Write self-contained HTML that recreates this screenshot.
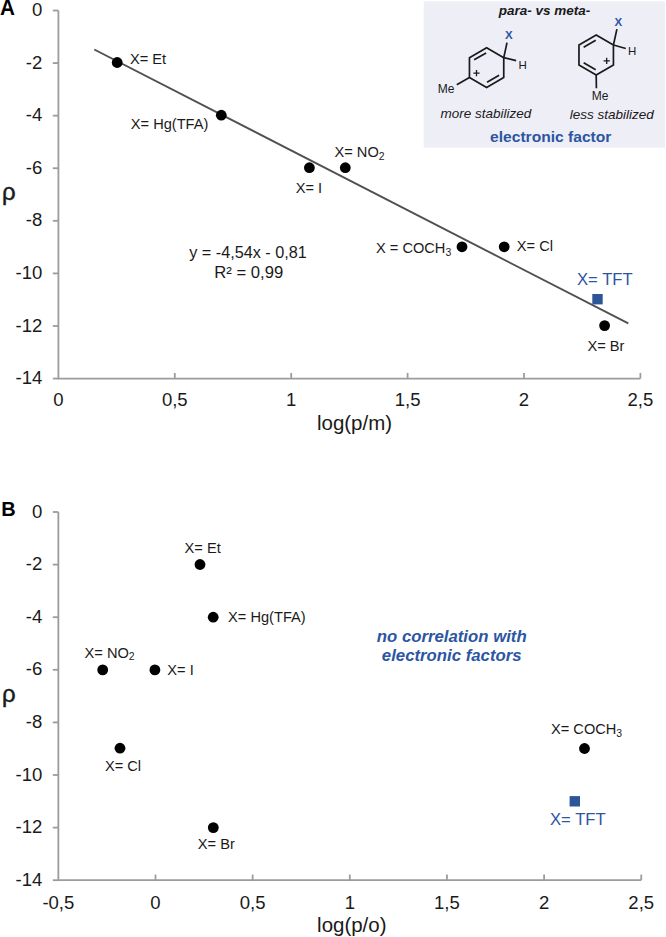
<!DOCTYPE html>
<html><head><meta charset="utf-8"><style>
html,body{margin:0;padding:0;background:#fff;}
body{width:666px;height:937px;overflow:hidden;}
svg{display:block;}
text{font-family:"Liberation Sans", sans-serif;fill:#1a1a1a;stroke:none;}
.tk{font-size:18px;}
.lb{font-size:14px;}
.sub{font-size:10px;}
.tft{font-size:16.5px;fill:#2c55a2;}
.eq{font-size:16px;}
.at{font-size:19.5px;}
.rho{font-size:24px;stroke:#1a1a1a;stroke-width:0.45px;}
.pl{font-size:20px;font-weight:bold;fill:#000;stroke:none;}
.pla{font-size:22px;font-weight:bold;fill:#000;stroke:none;}
.bi{font-size:13.5px;font-weight:bold;font-style:italic;stroke:none;}
.it{font-size:13.5px;font-style:italic;}
.ef{font-size:15px;font-weight:bold;fill:#2c55a2;stroke:none;}
.nc{font-size:16.6px;font-weight:bold;font-style:italic;fill:#2c55a2;stroke:none;}
.xx{font-size:11.5px;font-weight:bold;fill:#2c55a2;}
.hh{font-size:11.5px;}
.me{font-size:12px;}
.pp{font-size:10px;font-weight:bold;}
</style></head><body>
<svg width="666" height="937" viewBox="0 0 666 937">
<text transform="translate(0.00 14.70) scale(0.9400 1)" text-anchor="start" class="pla">A</text>
<path d="M58.40 10.50V378.56H640.40" fill="none" stroke="#9c9c9c" stroke-width="1.8"/>
<line x1="52.8" y1="10.50" x2="58.40" y2="10.50" stroke="#9c9c9c" stroke-width="1.8"/>
<text transform="translate(42.30 16.10) scale(1.0300 1)" text-anchor="end" class="tk">0</text>
<line x1="52.8" y1="63.08" x2="58.40" y2="63.08" stroke="#9c9c9c" stroke-width="1.8"/>
<text transform="translate(42.30 68.68) scale(1.0300 1)" text-anchor="end" class="tk">-2</text>
<line x1="52.8" y1="115.66" x2="58.40" y2="115.66" stroke="#9c9c9c" stroke-width="1.8"/>
<text transform="translate(42.30 121.26) scale(1.0300 1)" text-anchor="end" class="tk">-4</text>
<line x1="52.8" y1="168.24" x2="58.40" y2="168.24" stroke="#9c9c9c" stroke-width="1.8"/>
<text transform="translate(42.30 173.84) scale(1.0300 1)" text-anchor="end" class="tk">-6</text>
<line x1="52.8" y1="220.82" x2="58.40" y2="220.82" stroke="#9c9c9c" stroke-width="1.8"/>
<text transform="translate(42.30 226.42) scale(1.0300 1)" text-anchor="end" class="tk">-8</text>
<line x1="52.8" y1="273.40" x2="58.40" y2="273.40" stroke="#9c9c9c" stroke-width="1.8"/>
<text transform="translate(42.30 279.00) scale(1.0300 1)" text-anchor="end" class="tk">-10</text>
<line x1="52.8" y1="325.98" x2="58.40" y2="325.98" stroke="#9c9c9c" stroke-width="1.8"/>
<text transform="translate(42.30 331.58) scale(1.0300 1)" text-anchor="end" class="tk">-12</text>
<line x1="52.8" y1="378.56" x2="58.40" y2="378.56" stroke="#9c9c9c" stroke-width="1.8"/>
<text transform="translate(42.30 384.16) scale(1.0300 1)" text-anchor="end" class="tk">-14</text>
<text transform="translate(58.40 406.00) scale(1.0300 1)" text-anchor="middle" class="tk">0</text>
<line x1="174.80" y1="372.96" x2="174.80" y2="378.56" stroke="#9c9c9c" stroke-width="1.8"/>
<text transform="translate(174.80 406.00) scale(1.0300 1)" text-anchor="middle" class="tk">0,5</text>
<line x1="291.20" y1="372.96" x2="291.20" y2="378.56" stroke="#9c9c9c" stroke-width="1.8"/>
<text transform="translate(291.20 406.00) scale(1.0300 1)" text-anchor="middle" class="tk">1</text>
<line x1="407.60" y1="372.96" x2="407.60" y2="378.56" stroke="#9c9c9c" stroke-width="1.8"/>
<text transform="translate(407.60 406.00) scale(1.0300 1)" text-anchor="middle" class="tk">1,5</text>
<line x1="524.00" y1="372.96" x2="524.00" y2="378.56" stroke="#9c9c9c" stroke-width="1.8"/>
<text transform="translate(524.00 406.00) scale(1.0300 1)" text-anchor="middle" class="tk">2</text>
<line x1="640.40" y1="372.96" x2="640.40" y2="378.56" stroke="#9c9c9c" stroke-width="1.8"/>
<text transform="translate(640.40 406.00) scale(1.0300 1)" text-anchor="middle" class="tk">2,5</text>
<line x1="94.3" y1="49.5" x2="628.3" y2="323.4" stroke="#505050" stroke-width="1.9"/>
<circle cx="117.20" cy="62.50" r="5.4" fill="#000"/>
<circle cx="221.30" cy="115.20" r="5.4" fill="#000"/>
<circle cx="309.40" cy="167.70" r="5.4" fill="#000"/>
<circle cx="345.30" cy="167.70" r="5.4" fill="#000"/>
<circle cx="462.00" cy="246.80" r="5.4" fill="#000"/>
<circle cx="504.20" cy="246.80" r="5.4" fill="#000"/>
<circle cx="604.60" cy="325.60" r="5.4" fill="#000"/>
<rect x="592.30" y="294.00" width="10.4" height="10.4" fill="#2e5597"/>
<text transform="translate(130.00 63.80) scale(1.0450 1)" text-anchor="start" class="lb">X= Et</text>
<text transform="translate(130.80 128.80) scale(1.0450 1)" text-anchor="start" class="lb">X= Hg(TFA)</text>
<text transform="translate(295.70 192.80) scale(1.0450 1)" text-anchor="start" class="lb">X= I</text>
<text transform="translate(334.50 156.80) scale(1.0450 1)" text-anchor="start" class="lb">X= NO<tspan class="sub" dy="2.7">2</tspan></text>
<text transform="translate(376.00 252.80) scale(1.0450 1)" text-anchor="start" class="lb">X = COCH<tspan class="sub" dy="2.7">3</tspan></text>
<text transform="translate(516.80 250.50) scale(1.0450 1)" text-anchor="start" class="lb">X= Cl</text>
<text transform="translate(587.50 350.50) scale(1.0450 1)" text-anchor="start" class="lb">X= Br</text>
<text transform="translate(577.00 284.80) scale(1.0100 1)" text-anchor="start" class="tft">X= TFT</text>
<text transform="translate(248.00 258.40) scale(1.0150 1)" text-anchor="middle" class="eq">y = -4,54x - 0,81</text>
<text transform="translate(248.80 277.60) scale(1.0400 1)" text-anchor="middle" class="eq">R² = 0,99</text>
<text transform="translate(354.50 429.70) scale(1.0500 1)" text-anchor="middle" class="at">log(p/m)</text>
<text x="2.00" y="200.00" text-anchor="start" class="rho">ρ</text>
<rect x="423.7" y="1.3" width="241.3" height="146.4" fill="#eeeef7"/>
<text x="544.50" y="15.20" text-anchor="middle" class="bi">para- vs meta-</text>
<path d="M486.60 47.80 L503.75 57.70 L503.75 77.50 L486.60 87.40 L469.45 77.50 L469.45 57.70Z" fill="none" stroke="#1a1a1a" stroke-width="1.7" stroke-linejoin="miter"/>
<line x1="474.12" y1="59.85" x2="486.13" y2="52.92" stroke="#1a1a1a" stroke-width="1.7"/>
<line x1="499.08" y1="75.35" x2="487.07" y2="82.28" stroke="#1a1a1a" stroke-width="1.7"/>
<line x1="503.75" y1="57.70" x2="507.00" y2="42.60" stroke="#1a1a1a" stroke-width="1.7"/>
<line x1="503.75" y1="57.70" x2="516.10" y2="60.70" stroke="#1a1a1a" stroke-width="1.7"/>
<line x1="469.45" y1="77.50" x2="456.80" y2="84.80" stroke="#1a1a1a" stroke-width="1.7"/>
<text x="508.80" y="39.30" text-anchor="middle" class="xx">X</text>
<text x="522.70" y="68.50" text-anchor="middle" class="hh">H</text>
<text x="446.00" y="93.30" text-anchor="middle" class="me">Me</text>
<path d="M473.40 73.20H479.60M476.50 70.10V76.30" stroke="#1a1a1a" stroke-width="1.3" fill="none"/>
<path d="M596.20 35.10 L613.43 45.05 L613.43 64.95 L596.20 74.90 L578.97 64.95 L578.97 45.05Z" fill="none" stroke="#1a1a1a" stroke-width="1.7" stroke-linejoin="miter"/>
<line x1="583.65" y1="47.19" x2="595.71" y2="40.23" stroke="#1a1a1a" stroke-width="1.7"/>
<line x1="595.71" y1="69.77" x2="583.65" y2="62.81" stroke="#1a1a1a" stroke-width="1.7"/>
<line x1="613.43" y1="45.05" x2="616.90" y2="29.10" stroke="#1a1a1a" stroke-width="1.7"/>
<line x1="613.43" y1="45.05" x2="625.80" y2="48.50" stroke="#1a1a1a" stroke-width="1.7"/>
<line x1="596.20" y1="74.90" x2="596.40" y2="88.30" stroke="#1a1a1a" stroke-width="1.7"/>
<text x="618.40" y="25.60" text-anchor="middle" class="xx">X</text>
<text x="632.20" y="55.30" text-anchor="middle" class="hh">H</text>
<text x="600.00" y="100.30" text-anchor="middle" class="me">Me</text>
<path d="M603.60 60.90H609.80M606.70 57.80V64.00" stroke="#1a1a1a" stroke-width="1.3" fill="none"/>
<text x="486.00" y="118.20" text-anchor="middle" class="it">more stabilized</text>
<text x="611.80" y="118.50" text-anchor="middle" class="it">less stabilized</text>
<text transform="translate(550.70 142.10) scale(1.0400 1)" text-anchor="middle" class="ef">electronic factor</text>
<text x="1.20" y="516.20" text-anchor="start" class="pl">B</text>
<path d="M58.35 512.00V880.20H641.25" fill="none" stroke="#9c9c9c" stroke-width="1.8"/>
<line x1="52.8" y1="512.00" x2="58.35" y2="512.00" stroke="#9c9c9c" stroke-width="1.8"/>
<text transform="translate(42.30 517.60) scale(1.0300 1)" text-anchor="end" class="tk">0</text>
<line x1="52.8" y1="564.60" x2="58.35" y2="564.60" stroke="#9c9c9c" stroke-width="1.8"/>
<text transform="translate(42.30 570.20) scale(1.0300 1)" text-anchor="end" class="tk">-2</text>
<line x1="52.8" y1="617.20" x2="58.35" y2="617.20" stroke="#9c9c9c" stroke-width="1.8"/>
<text transform="translate(42.30 622.80) scale(1.0300 1)" text-anchor="end" class="tk">-4</text>
<line x1="52.8" y1="669.80" x2="58.35" y2="669.80" stroke="#9c9c9c" stroke-width="1.8"/>
<text transform="translate(42.30 675.40) scale(1.0300 1)" text-anchor="end" class="tk">-6</text>
<line x1="52.8" y1="722.40" x2="58.35" y2="722.40" stroke="#9c9c9c" stroke-width="1.8"/>
<text transform="translate(42.30 728.00) scale(1.0300 1)" text-anchor="end" class="tk">-8</text>
<line x1="52.8" y1="775.00" x2="58.35" y2="775.00" stroke="#9c9c9c" stroke-width="1.8"/>
<text transform="translate(42.30 780.60) scale(1.0300 1)" text-anchor="end" class="tk">-10</text>
<line x1="52.8" y1="827.60" x2="58.35" y2="827.60" stroke="#9c9c9c" stroke-width="1.8"/>
<text transform="translate(42.30 833.20) scale(1.0300 1)" text-anchor="end" class="tk">-12</text>
<line x1="52.8" y1="880.20" x2="58.35" y2="880.20" stroke="#9c9c9c" stroke-width="1.8"/>
<text transform="translate(42.30 885.80) scale(1.0300 1)" text-anchor="end" class="tk">-14</text>
<text transform="translate(58.35 908.80) scale(1.0300 1)" text-anchor="middle" class="tk">-0,5</text>
<line x1="155.50" y1="874.60" x2="155.50" y2="880.20" stroke="#9c9c9c" stroke-width="1.8"/>
<text transform="translate(155.50 908.80) scale(1.0300 1)" text-anchor="middle" class="tk">0</text>
<line x1="252.65" y1="874.60" x2="252.65" y2="880.20" stroke="#9c9c9c" stroke-width="1.8"/>
<text transform="translate(252.65 908.80) scale(1.0300 1)" text-anchor="middle" class="tk">0,5</text>
<line x1="349.80" y1="874.60" x2="349.80" y2="880.20" stroke="#9c9c9c" stroke-width="1.8"/>
<text transform="translate(349.80 908.80) scale(1.0300 1)" text-anchor="middle" class="tk">1</text>
<line x1="446.95" y1="874.60" x2="446.95" y2="880.20" stroke="#9c9c9c" stroke-width="1.8"/>
<text transform="translate(446.95 908.80) scale(1.0300 1)" text-anchor="middle" class="tk">1,5</text>
<line x1="544.10" y1="874.60" x2="544.10" y2="880.20" stroke="#9c9c9c" stroke-width="1.8"/>
<text transform="translate(544.10 908.80) scale(1.0300 1)" text-anchor="middle" class="tk">2</text>
<line x1="641.25" y1="874.60" x2="641.25" y2="880.20" stroke="#9c9c9c" stroke-width="1.8"/>
<text transform="translate(641.25 908.80) scale(1.0300 1)" text-anchor="middle" class="tk">2,5</text>
<circle cx="200.00" cy="564.50" r="5.4" fill="#000"/>
<circle cx="213.20" cy="617.20" r="5.4" fill="#000"/>
<circle cx="102.70" cy="669.90" r="5.4" fill="#000"/>
<circle cx="154.90" cy="669.90" r="5.4" fill="#000"/>
<circle cx="120.00" cy="748.20" r="5.4" fill="#000"/>
<circle cx="213.30" cy="827.60" r="5.4" fill="#000"/>
<circle cx="584.50" cy="748.50" r="5.4" fill="#000"/>
<rect x="569.60" y="796.10" width="10.4" height="10.4" fill="#2e5597"/>
<text transform="translate(184.60 553.00) scale(1.0450 1)" text-anchor="start" class="lb">X= Et</text>
<text transform="translate(228.10 622.30) scale(1.0450 1)" text-anchor="start" class="lb">X= Hg(TFA)</text>
<text transform="translate(84.60 657.50) scale(1.0450 1)" text-anchor="start" class="lb">X= NO<tspan class="sub" dy="2.7">2</tspan></text>
<text transform="translate(167.30 674.60) scale(1.0450 1)" text-anchor="start" class="lb">X= I</text>
<text transform="translate(104.90 771.40) scale(1.0450 1)" text-anchor="start" class="lb">X= Cl</text>
<text transform="translate(197.80 848.50) scale(1.0450 1)" text-anchor="start" class="lb">X= Br</text>
<text transform="translate(551.00 734.30) scale(1.0450 1)" text-anchor="start" class="lb">X= COCH<tspan class="sub" dy="2.7">3</tspan></text>
<text transform="translate(550.00 824.70) scale(1.0100 1)" text-anchor="start" class="tft">X= TFT</text>
<text transform="translate(451.70 641.70) scale(1.0100 1)" text-anchor="middle" class="nc">no correlation with</text>
<text transform="translate(451.70 660.80) scale(1.0100 1)" text-anchor="middle" class="nc">electronic factors</text>
<text transform="translate(351.80 931.90) scale(1.0500 1)" text-anchor="middle" class="at">log(p/o)</text>
<text x="2.00" y="702.00" text-anchor="start" class="rho">ρ</text>
</svg>
</body></html>
